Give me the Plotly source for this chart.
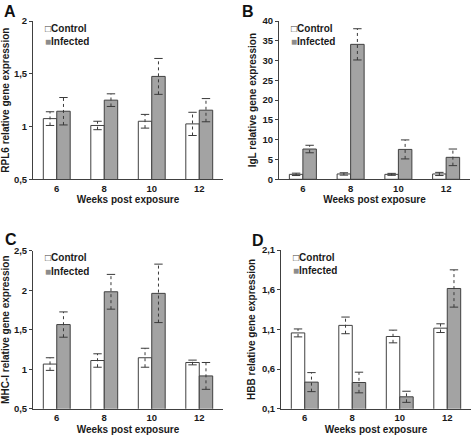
import plotly.graph_objects as go
from plotly.subplots import make_subplots

weeks = ["6", "8", "10", "12"]

rpl6_control = [1.075, 1.01, 1.05, 1.025]
rpl6_control_err = [0.065, 0.04, 0.065, 0.11]
rpl6_infected = [1.145, 1.25, 1.475, 1.155]
rpl6_infected_err = [0.13, 0.06, 0.17, 0.11]

igl_control = [1.25, 1.35, 1.25, 1.35]
igl_control_err = [0.3, 0.3, 0.25, 0.4]
igl_infected = [7.65, 34.1, 7.55, 5.55]
igl_infected_err = [0.95, 3.95, 2.4, 2.1]

mhc_control = [1.065, 1.11, 1.145, 1.085]
mhc_control_err = [0.08, 0.085, 0.12, 0.03]
mhc_infected = [1.565, 1.98, 1.96, 0.915]
mhc_infected_err = [0.16, 0.22, 0.37, 0.17]

hbb_control = [1.055, 1.15, 1.01, 1.115]
hbb_control_err = [0.05, 0.105, 0.08, 0.055]
hbb_infected = [0.435, 0.43, 0.25, 1.615]
hbb_infected_err = [0.12, 0.13, 0.07, 0.235]

panel_letters = ["A", "B", "C", "D"]
y_titles = ["RPL6 relative gene expression", "IgL relative gene expression",
            "MHC-I relative gene expression", "HBB relative gene expression"]
x_title = "Weeks post exposure"
series_names = ["Control", "Infected"]

panels = [
    (rpl6_control, rpl6_control_err, rpl6_infected, rpl6_infected_err, [0.5, 2], 0.5, 0.5),
    (igl_control, igl_control_err, igl_infected, igl_infected_err, [0, 40], 0, 5),
    (mhc_control, mhc_control_err, mhc_infected, mhc_infected_err, [0.5, 2.5], 0.5, 0.5),
    (hbb_control, hbb_control_err, hbb_infected, hbb_infected_err, [0.1, 2.1], 0.1, 0.5),
]

W, H = 472, 437
# plot areas in pixels (left, right, top, bottom)
areas = [(33, 223, 21, 179.3), (279, 470, 21, 179.3),
         (33, 223, 250.7, 408.7), (281, 471, 250, 408.7)]

FONT = "Arial, Liberation Sans, sans-serif"
TXT = "#1a1a1a"
LINE = "#404040"
GRAY = "#a3a3a3"
ERR = "#3a3a3a"
BARGAP = 0.434
BAR_W = (1 - BARGAP) / 2          # width of one bar in category units
idx = list(range(len(weeks)))     # category positions


def err_path(shift, values, errs):
    xs, ys = [], []
    for k, v, e in zip(idx, values, errs):
        xs += [k + shift, k + shift, None]
        ys += [v - e, v + e, None]
    return xs, ys


fig = make_subplots(rows=2, cols=2)
positions = [(1, 1), (1, 2), (2, 1), (2, 2)]

for i, (c, ce, inf, ie, rng, t0, dt) in enumerate(panels):
    r, col = positions[i]
    for name, vals, errs, fill, side in [(series_names[0], c, ce, "white", -1),
                                         (series_names[1], inf, ie, GRAY, 1)]:
        shift = side * BAR_W / 2
        fig.add_trace(go.Bar(
            x=idx, y=vals, name=name, showlegend=False,
            width=BAR_W, offset=shift - BAR_W / 2,
            marker=dict(color=fill, line=dict(color=LINE, width=1)),
            hoverinfo="skip",
        ), row=r, col=col)
        ex, ey = err_path(shift, vals, errs)
        fig.add_trace(go.Scatter(
            x=ex, y=ey, mode="lines+markers", showlegend=False,
            line=dict(color=ERR, width=1, dash="dot"),
            marker=dict(symbol="line-ew", size=6, line=dict(color=ERR, width=1)),
            connectgaps=False, hoverinfo="skip", cliponaxis=False,
        ), row=r, col=col)

    l, rr, t, b = areas[i]
    sfx = "" if i == 0 else str(i + 1)
    fig.layout["xaxis" + sfx].update(
        domain=[l / W, rr / W], type="linear", range=[-0.5, len(weeks) - 0.5],
        tickmode="array", tickvals=idx, ticktext=weeks, automargin=False,
        showline=True, linecolor=LINE, linewidth=1, ticks="",
        showgrid=False, zeroline=False,
        tickfont=dict(family=FONT, size=9.5, color=TXT, weight="bold"),
        title=dict(text=x_title, font=dict(family=FONT, size=10, color=TXT, weight="bold"), standoff=3),
    )
    fig.layout["yaxis" + sfx].update(
        domain=[1 - b / H, 1 - t / H], range=rng, tick0=t0, dtick=dt, automargin=False,
        showline=True, linecolor=LINE, linewidth=1, ticks="outside", ticklen=3,
        tickcolor=LINE, showgrid=False, zeroline=False,
        tickfont=dict(family=FONT, size=9.5, color=TXT, weight="bold"),
        title=dict(text=y_titles[i], font=dict(family=FONT, size=10, color=TXT, weight="bold"), standoff=4),
    )
    xref = "x" + sfx + " domain"
    yref = "y" + sfx + " domain"
    fig.add_annotation(
        xref=xref, yref=yref, x=0.05, y=0.955, xanchor="left", yanchor="middle",
        text="<span style='color:#404040'>□</span>" + series_names[0], showarrow=False,
        font=dict(family=FONT, size=10, color=TXT, weight="bold"),
    )
    fig.add_annotation(
        xref=xref, yref=yref, x=0.05, y=0.868, xanchor="left", yanchor="middle",
        text="<span style='color:#8c8c8c'>■</span>" + series_names[1], showarrow=False,
        font=dict(family=FONT, size=10, color=TXT, weight="bold"),
    )

letter_pos = [(2, 1), (240, 1), (3, 229), (250, 230)]
for letter, (px, py) in zip(panel_letters, letter_pos):
    fig.add_annotation(
        xref="paper", yref="paper", x=px / W, y=1 - py / H, xanchor="left", yanchor="top",
        text=letter, showarrow=False,
        font=dict(family=FONT, size=16, color="#111111", weight="bold"),
    )

fig.update_layout(
    width=W, height=H, margin=dict(l=0, r=0, t=0, b=0, autoexpand=False),
    paper_bgcolor="white", plot_bgcolor="white",
    barmode="overlay",
    separators=", ", showlegend=False,
)

fig.write_html(
    "out.html",
    config={"displayModeBar": False},
    post_script="document.body.style.margin='0px';document.body.style.overflow='hidden';",
)
